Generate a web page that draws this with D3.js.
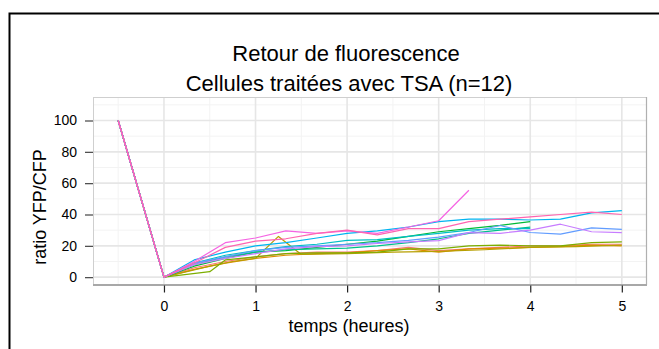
<!DOCTYPE html>
<html>
<head>
<meta charset="utf-8">
<script src="https://cdn.jsdelivr.net/npm/d3@7"></script>
<style>
  html, body { margin: 0; padding: 0; background: #fff; }
  svg { display: block; }
  text { font-family: "Liberation Sans", Arial, sans-serif; fill: #000; }
</style>
</head>
<body>
<svg id="chart" width="659" height="349"></svg>
<script>
// Recovery curves, one per cell (ratio YFP/CFP against time in hours)
const thirds = [-0.5, 0, 0.33, 0.67, 1, 1.33, 1.67, 2, 2.33, 2.67, 3, 3.33, 3.67, 4, 4.33, 4.67, 5];
const quarters = [-0.5, 0, 0.5, 0.75, 1, 1.25, 1.5, 2, 2.5, 3, 3.5, 4, 4.5, 5];
const mixedSteps = [-0.5, 0, 0.5, 0.67, 1, 1.33, 1.67, 2, 2.33, 2.67, 3, 3.33, 3.67, 4, 4.33, 4.67, 5];

const cellColors = ["#F8766D", "#DE8C00", "#B79F00", "#7CAE00", "#00BA38", "#00C08B",
                    "#00BFC4", "#00B4F0", "#619CFF", "#C77CFF", "#F564E3", "#FF64B0"];
const cellTimes = [thirds, thirds, quarters, mixedSteps, thirds, thirds,
                   thirds, thirds, thirds, thirds, thirds, thirds];

const cell1  = [100, 0, 6, 10, 13, 15, 16, 16, 17, 19, 17, 18, 19, 20, 20, 21, 21];
const cell2  = [100, 0, 5, 9, 12, 14, 15, 15.5, 17, 18, 16, 18, 18.5, 19, 19.5, 20.5, 20];
const cell3  = [100, 0, 7, 10, 12, 26, 14.5, 15, 16, 16.5, 17.5, 19, 19.5, 20.5];
const cell4  = [100, 0, 3.5, 11, 13, 15, 15.5, 15.5, 16, 18, 18, 20, 20.5, 20, 20, 22, 22.5];
const cell5  = [100, 0, 7, 12, 16, 17, 19, 21, 23, 26, 29, 31, 33, 35.5];
const cell6  = [100, 0, 8, 13, 16, 17.5, 18, 18.5, 20, 22, 24.5, 28, 30, 32];
const cell7  = [100, 0, 9, 14, 17, 19.5, 21, 23.5, 24, 26, 28, 30, 31, 31];
const cell8  = [100, 0, 11, 16, 20, 22, 25, 28, 29.5, 32, 35.5, 37, 37, 36.5, 37, 41, 42.5];
const cell9  = [100, 0, 9, 13, 17, 19, 20, 21, 22, 23.5, 25.5, 28.5, 33, 28.5, 27.5, 31.5, 30.5];
const cell10 = [100, 0, 8, 12, 15, 18, 19.5, 20, 21.5, 22.5, 23.3, 28.4, 28, 30, 33.8, 29, 28.4];
const cell11 = [100, 0, 10, 22, 25, 29.5, 28, 29.5, 28, 32, 36, 55.5];
const cell12 = [100, 0, 9, 19, 23, 24.5, 28, 30, 27, 31, 31, 35.5, 37, 38.5, 40, 41.5, 40];
const cellValues = [cell1, cell2, cell3, cell4, cell5, cell6, cell7, cell8, cell9, cell10, cell11, cell12];

const xTicks = [0, 1, 2, 3, 4, 5];
const xMinor = [-0.5, 0.5, 1.5, 2.5, 3.5, 4.5];
const yTicks = [0, 20, 40, 60, 80, 100];
const yMinor = [10, 30, 50, 70, 90, 110];

const titleLines = ["Retour de fluorescence", "Cellules traitées avec TSA (n=12)"];
const xLabel = "temps (heures)";
const yLabel = "ratio YFP/CFP";

const svg = d3.select("#chart");
const panel = { left: 93, right: 647, top: 97, bottom: 285 };

const x = d3.scaleLinear().domain([-0.775, 5.275]).range([panel.left, panel.right]);
const y = d3.scaleLinear().domain([-5, 115]).range([panel.bottom, panel.top]);

// outer frame
svg.append("rect")
  .attr("x", 9.5).attr("y", 13.5)
  .attr("width", 700).attr("height", 400)
  .attr("fill", "none").attr("stroke", "#000").attr("stroke-width", 2);

// grid
const grid = svg.append("g");
grid.selectAll("line.xminor").data(xMinor).join("line")
  .attr("x1", d => x(d)).attr("x2", d => x(d))
  .attr("y1", panel.top).attr("y2", panel.bottom)
  .attr("stroke", "#f3f3f3").attr("stroke-width", 1);
grid.selectAll("line.yminor").data(yMinor).join("line")
  .attr("x1", panel.left).attr("x2", panel.right)
  .attr("y1", d => y(d)).attr("y2", d => y(d))
  .attr("stroke", "#f3f3f3").attr("stroke-width", 1);
grid.selectAll("line.xmajor").data(xTicks).join("line")
  .attr("x1", d => x(d)).attr("x2", d => x(d))
  .attr("y1", panel.top).attr("y2", panel.bottom)
  .attr("stroke", "#e6e6e6").attr("stroke-width", 1.6);
grid.selectAll("line.ymajor").data(yTicks).join("line")
  .attr("x1", panel.left).attr("x2", panel.right)
  .attr("y1", d => y(d)).attr("y2", d => y(d))
  .attr("stroke", "#e6e6e6").attr("stroke-width", 1.6);

// panel border
svg.append("rect")
  .attr("x", panel.left + 0.5).attr("y", panel.top + 0.5)
  .attr("width", panel.right - panel.left - 1).attr("height", panel.bottom - panel.top - 1)
  .attr("fill", "none").attr("stroke", "#cfcfcf").attr("stroke-width", 1);
svg.append("line")
  .attr("x1", panel.right - 0.5).attr("x2", panel.right - 0.5)
  .attr("y1", panel.top).attr("y2", panel.bottom)
  .attr("stroke", "#b0b0b0").attr("stroke-width", 1.2);

// series
const line = d3.line().x(d => x(d[0])).y(d => y(d[1]));
const plot = svg.append("g");
cellValues.forEach((vals, i) => {
  const pts = vals.map((v, j) => [cellTimes[i][j], v]);
  plot.append("path")
    .attr("d", line(pts))
    .attr("fill", "none")
    .attr("stroke", cellColors[i])
    .attr("stroke-width", 1.2)
    .attr("stroke-linejoin", "round");
});

// bottom axis line
svg.append("line")
  .attr("x1", panel.left).attr("x2", panel.right)
  .attr("y1", panel.bottom).attr("y2", panel.bottom)
  .attr("stroke", "#a8a8a8").attr("stroke-width", 2);

// x axis
const xAxis = d3.axisBottom(x).tickValues(xTicks).tickFormat(d3.format("d")).tickSize(7).tickPadding(9);
const gx = svg.append("g").attr("transform", `translate(0,${panel.bottom + 0.5})`).call(xAxis);
gx.select(".domain").remove();
gx.selectAll(".tick line").attr("stroke", "#222").attr("stroke-width", 1.2);
gx.selectAll(".tick text").attr("font-size", 14).attr("font-family", "Liberation Sans, Arial, sans-serif").attr("fill", "#111");

// y axis
const yAxis = d3.axisLeft(y).tickValues(yTicks).tickFormat(d3.format("d")).tickSize(8).tickPadding(8);
const gy = svg.append("g").attr("transform", `translate(${panel.left},0)`).call(yAxis);
gy.select(".domain").remove();
gy.selectAll(".tick line").attr("stroke", "#444").attr("stroke-width", 1.2);
gy.selectAll(".tick text").attr("font-size", 14).attr("font-family", "Liberation Sans, Arial, sans-serif").attr("fill", "#111");

// titles
svg.append("text").attr("x", 346).attr("y", 61).attr("text-anchor", "middle")
  .attr("font-size", 22).text(titleLines[0]);
svg.append("text").attr("x", 349).attr("y", 91).attr("text-anchor", "middle")
  .attr("font-size", 22).text(titleLines[1]);

svg.append("text").attr("x", 349).attr("y", 332).attr("text-anchor", "middle")
  .attr("font-size", 18).text(xLabel);
svg.append("text")
  .attr("transform", "translate(46,207) rotate(-90)")
  .attr("text-anchor", "middle")
  .attr("font-size", 18).text(yLabel);
</script>
</body>
</html>
